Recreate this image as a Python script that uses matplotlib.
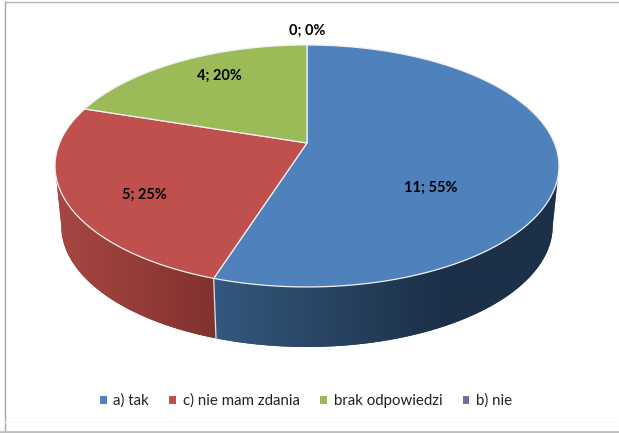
# -*- coding: utf-8 -*-
import matplotlib
matplotlib.use('Agg')
import matplotlib.pyplot as plt
from matplotlib.colors import to_rgb
from matplotlib.patches import Patch, Polygon
import numpy as np

labels = ['a) tak', 'c) nie mam zdania', 'brak odpowiedzi', 'b) nie']
values = [11, 5, 4, 0]
percents = ['55%', '25%', '20%', '0%']
colors = ['#4f81bd', '#c0504d', '#9bbb59', '#8064a2']

W, H = 619, 433
CX, CY, RX, RY, K = 307, 143, 247.4, 89.45, 0.19
DEPTH = 60
BOTTOM_SCALE = 0.975

# horizontal shading of the side wall: pixel x and colour stops per slice
side_stops = {
    0: ([214, 340, 440], ['#34587f', '#27425f', '#1c3049']),
    1: ([56, 214], ['#a84743', '#81322f']),
}


def project(theta):
    # circle seen in perspective, the far edge comes out smaller
    c, s = np.cos(theta), np.sin(theta)
    d = 1 + K * s
    return CX + RX * c / d, (CY - RY * s) / d


def project_bottom(theta):
    x, y = project(theta)
    return CX + (x - CX) * BOTTOM_SCALE, y + DEPTH


plt.rcParams['font.family'] = ['Lato', 'DejaVu Sans']
fig = plt.figure(figsize=(W / 100, H / 100), dpi=100)
ax = fig.add_axes([0, 0, 1, 1])

# slice angles, clockwise from the top
shares = np.array(values) / sum(values)
ends = np.pi / 2 - 2 * np.pi * np.cumsum(shares)
starts = np.concatenate([[np.pi / 2], ends[:-1]])

# the wall starts where the projected circle is widest
widest = np.arcsin(K)

# side wall
for i in side_stops:
    a0 = min(starts[i], -widest)
    a1 = max(ends[i], -np.pi + widest)
    t = np.linspace(a0, a1, 160)
    xt, yt = project(t)
    xb, yb = project_bottom(t)
    outline = np.column_stack([np.concatenate([xt, xb[::-1]]), np.concatenate([yt, yb[::-1]])])

    stop_x, stop_c = side_stops[i]
    rgb = np.array([to_rgb(c) for c in stop_c])
    px = np.arange(W) + 0.5
    grad = np.stack([np.interp(px, stop_x, rgb[:, k]) for k in range(3)], axis=-1)[None, :, :]

    # soft edge under the gradient, clipping alone leaves it jagged
    ax.add_patch(Polygon(outline, closed=True, facecolor=rgb[len(rgb) // 2], edgecolor='none', zorder=2))
    im = ax.imshow(grad, extent=(0, W, H, 0), aspect='auto', interpolation='bilinear', zorder=2.5)
    im.set_clip_path(Polygon(outline, closed=True, transform=ax.transData))

# seam between the slices on the side
xs0, ys0 = project(ends[0])
xs1, ys1 = project_bottom(ends[0])
ax.plot([xs0, xs1], [ys0, ys1], color='#dfe3e8', lw=0.9, zorder=3)

# top face
for i in range(len(values)):
    if values[i] == 0:
        continue
    t = np.linspace(starts[i], ends[i], 120)
    x, y = project(t)
    pts = np.column_stack([np.concatenate([[CX], x]), np.concatenate([[CY], y])])
    ax.add_patch(Polygon(pts, closed=True, facecolor=colors[i], edgecolor='#eef0f3', lw=0.9, zorder=4))

# data labels
label_x = [431, 144, 219, 307]
label_y = [188, 195, 75.5, 31]
for i in range(len(values)):
    ax.text(label_x[i], label_y[i], '%d; %s' % (values[i], percents[i]), ha='center', va='center',
            fontsize=10.5, fontweight='bold', color='black', zorder=5)

handles = [Patch(facecolor=c, edgecolor='none') for c in colors]
ax.legend(handles, labels, ncol=4, loc='center', bbox_to_anchor=(306 / W, 1 - 401 / H), frameon=False,
          fontsize=10.8, handlelength=0.45, handleheight=0.45, handletextpad=0.45, columnspacing=1.35,
          labelcolor='#222222')

# chart frame from the screenshot
ax.plot([5, 5], [2, 430], color='#a6a6a6', lw=1, zorder=1)
ax.plot([5, W], [2, 2], color='#b4b4b4', lw=1, zorder=1)
ax.plot([0, W], [431.5, 431.5], color='#bdbdbd', lw=2, zorder=1)
ax.plot([5, 615], [422, 422], color='#f6f6f6', lw=1, zorder=1)

ax.set_xlim(0, W)
ax.set_ylim(H, 0)
ax.axis('off')

fig.savefig('out.png', dpi=100)
